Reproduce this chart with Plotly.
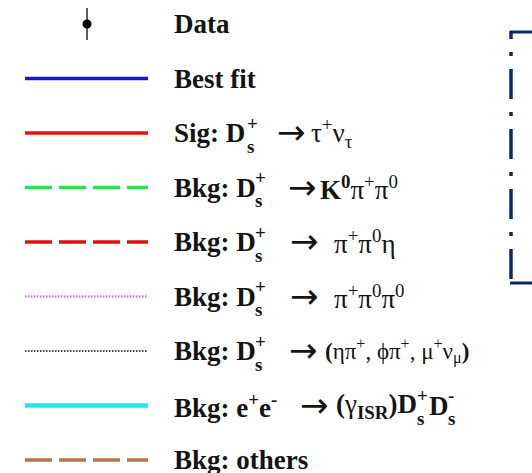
import plotly.graph_objects as go

# Legend entries: prefix text, stacked charge / subscript, decay products
prefixes = ["Data", "Best fit", "Sig: D", "Bkg: D", "Bkg: D", "Bkg: D", "Bkg: D",
            "Bkg: e<sup>+</sup>e<sup>-</sup>", "Bkg: others"]
stack_sup = [None, None, "+", "+", "+", "+", "+", None, None]
stack_sub = [None, None, "s", "s", "s", "s", "s", None, None]
has_arrow = [False, False, True, True, True, True, True, True, False]
products = [
    None,
    None,
    "τ<sup>+</sup>ν<sub>τ</sub>",
    "<b>K<sup>0</sup></b>π<sup>+</sup>π<sup>0</sup>",
    "π<sup>+</sup>π<sup>0</sup>η",
    "π<sup>+</sup>π<sup>0</sup>π<sup>0</sup>",
    "<b>(</b>ηπ<sup>+</sup>, ϕπ<sup>+</sup>, μ<sup>+</sup>ν<sub>μ</sub><b>)</b>",
    "<b>(</b>γ<sub><b>ISR</b></sub><b>)D</b>",
    None,
]
# closing D_s^+ D_s^- pair of the e+e- entry
ee_tail = ["+", "s", "D", "-", "s"]

line_colors = [None, "#1414dc", "#ee1010", "#30e050", "#e01010", "#ee70dd",
               "#444444", "#20e8e8", "#b07848"]
line_dashes = [None, "solid", "solid", "27px,7px", "27px,7px", "1.5px,1.5px",
               "1.5px,1.5px", "solid", "27px,7px"]
line_widths = [None, 3.5, 3.5, 3.5, 3.5, 2.5, 2, 4.5, 3.5]

W, H = 532, 473
ROW0, ROW_STEP = 24, 54.5
KEY_X0, KEY_X1, KEY_MID = 25, 148, 87
TEXT_X = 172
FONT = "Liberation Serif"
FS, FS_SMALL = 27, 19
TXT = "#141414"

# horizontal layout of the decay part of each entry
stack_x = {2: 245, 3: 253, 4: 253, 5: 253, 6: 253}
arrow_x = {2: 275, 3: 286, 4: 288, 5: 288, 6: 287, 7: 298}
prod_x = {2: 309, 3: 318, 4: 332, 5: 332, 6: 323, 7: 334}
prod_size = {6: 23}


def text(x, y, s, size=FS, family=FONT):
    return dict(x=x, y=y, text=s, xanchor="left", yanchor="middle",
                showarrow=False, font=dict(family=family, size=size, color=TXT))


def stacked(x, y, sup, sub):
    return [text(x, y - 10, "<b>" + sup + "</b>", FS_SMALL),
            text(x, y + 13, "<b>" + sub + "</b>", FS_SMALL)]


fig = go.Figure()
annotations = []
for i, pre in enumerate(prefixes):
    y = ROW0 + ROW_STEP * i
    if i == 0:
        fig.add_trace(go.Scatter(
            x=[KEY_MID], y=[y], mode="markers",
            marker=dict(color="black", size=9),
            error_y=dict(type="constant", value=16, color="#333333",
                         thickness=1.6, width=0),
            showlegend=False, hoverinfo="skip"))
    else:
        fig.add_trace(go.Scatter(
            x=[KEY_X0, KEY_X1], y=[y, y], mode="lines",
            line=dict(color=line_colors[i], dash=line_dashes[i],
                      width=line_widths[i]),
            showlegend=False, hoverinfo="skip"))

    annotations.append(text(TEXT_X, y, "<b>" + pre + "</b>"))
    if stack_sup[i]:
        annotations += stacked(stack_x[i], y, stack_sup[i], stack_sub[i])
    if has_arrow[i]:
        annotations.append(text(arrow_x[i], y - 1, "→", 34, "DejaVu Sans"))
    if products[i]:
        annotations.append(text(prod_x[i], y, products[i], prod_size.get(i, FS)))

# trailing D_s^+ D_s^- of the e+e- entry
y7 = ROW0 + ROW_STEP * 7
annotations += stacked(415, y7, ee_tail[0], ee_tail[1])
annotations.append(text(427, y7, "<b>" + ee_tail[2] + "</b>"))
annotations += stacked(446, y7, ee_tail[3], ee_tail[4])

# dash-dotted frame edge on the right
NAVY = "#0a2868"
shapes = [
    dict(type="line", x0=510, x1=540, y0=32, y1=32, line=dict(color=NAVY, width=3)),
    dict(type="line", x0=510, x1=540, y0=283, y1=283, line=dict(color=NAVY, width=3)),
    dict(type="line", x0=511, x1=511, y0=31, y1=283,
         line=dict(color=NAVY, width=3.5,
                   dash="8px,13px,4px,13px,30px,13px,4px,13px,30px,13px,4px,"
                        "13px,30px,13px,4px,13px,30px,20px")),
]

fig.update_layout(
    width=W, height=H, margin=dict(l=0, r=0, t=0, b=0),
    paper_bgcolor="white", plot_bgcolor="white",
    xaxis=dict(range=[0, W], visible=False, fixedrange=True),
    yaxis=dict(range=[H, 0], visible=False, fixedrange=True),
    annotations=annotations, shapes=shapes,
)

fig.write_html("out.html")
